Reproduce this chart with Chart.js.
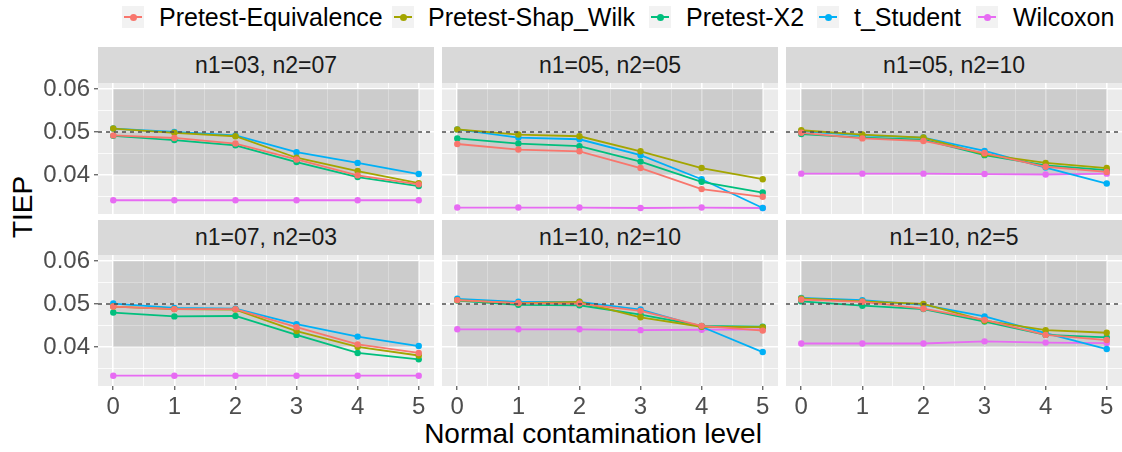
<!DOCTYPE html>
<html>
<head>
<meta charset="utf-8">
<script src="https://cdn.jsdelivr.net/npm/chart.js@4/dist/chart.umd.min.js"></script>
<style>
  body { margin: 0; background: #fff; }
  #wrap { position: relative; width: 1122px; height: 452px; overflow: hidden; font-family: "Liberation Sans", Arial, sans-serif; }
  .strip { position: absolute; background: #D9D9D9; color: #1A1A1A; font-size: 23px; display: flex; align-items: center; justify-content: center; }
  canvas { position: absolute; }
  .key { position: absolute; top: 6px; width: 22px; height: 22px; background: #F2F2F2; }
  .key .ln { position: absolute; left: 2px; top: 10px; width: 18px; height: 2px; }
  .key .dt { position: absolute; left: 7.5px; top: 7.5px; width: 7px; height: 7px; border-radius: 50%; }
  .ltxt { position: absolute; top: 2px; height: 30px; line-height: 30px; font-size: 25px; color: #000; white-space: nowrap; }
  .title { position: absolute; font-size: 28px; color: #000; white-space: nowrap; }
</style>
</head>
<body>
<div id="wrap">
  <div class="title" id="ytitle" style="left:23px; top:207px; transform: translate(-50%,-50%) rotate(-90deg);">TIEP</div>
  <div class="title" id="xtitle" style="left:593px; top:434px; transform: translate(-50%,-50%);">Normal contamination level</div>
</div>
<script>
const levels = [0, 1, 2, 3, 4, 5];
const panelNames = ['n1=03, n2=07', 'n1=05, n2=05', 'n1=05, n2=10', 'n1=07, n2=03', 'n1=10, n2=10', 'n1=10, n2=5'];
const methods = ['Pretest-Equivalence', 'Pretest-Shap_Wilk', 'Pretest-X2', 't_Student', 'Wilcoxon'];
const colors = ['#F8766D', '#A3A500', '#00BF7D', '#00B0F6', '#E76BF3'];
const xTicks = [0, 0.5, 1, 1.5, 2, 2.5, 3, 3.5, 4, 4.5, 5];
const yTicks = [0.035, 0.04, 0.045, 0.05, 0.055, 0.06];

// one row per panel, one value per contamination level
const pretestEquivalence = [
    [0.0492, 0.0486, 0.0473, 0.0436, 0.0399, 0.0378],
    [0.0472, 0.0459, 0.0455, 0.0416, 0.0367, 0.0349],
    [0.0498, 0.0485, 0.0479, 0.0451, 0.0419, 0.0407],
    [0.0494, 0.0488, 0.0488, 0.0446, 0.0406, 0.0386],
    [0.0509, 0.0502, 0.0501, 0.0484, 0.0449, 0.0438],
    [0.0510, 0.0505, 0.0489, 0.0463, 0.0428, 0.0416]
];
const pretestShapWilk = [
    [0.0508, 0.0498, 0.0490, 0.0440, 0.0409, 0.0381],
    [0.0506, 0.0494, 0.0490, 0.0455, 0.0416, 0.0390],
    [0.0504, 0.0494, 0.0487, 0.0448, 0.0428, 0.0416],
    [0.0494, 0.0488, 0.0487, 0.0437, 0.0400, 0.0380],
    [0.0509, 0.0502, 0.0505, 0.0469, 0.0447, 0.0446],
    [0.0513, 0.0506, 0.0500, 0.0461, 0.0439, 0.0433]
];
const pretestX2 = [
    [0.0491, 0.0481, 0.0469, 0.0430, 0.0395, 0.0374],
    [0.0485, 0.0473, 0.0467, 0.0431, 0.0384, 0.0359],
    [0.0495, 0.0487, 0.0482, 0.0446, 0.0422, 0.0411],
    [0.0480, 0.0471, 0.0472, 0.0428, 0.0386, 0.0371],
    [0.0508, 0.0498, 0.0497, 0.0475, 0.0449, 0.0447],
    [0.0506, 0.0496, 0.0488, 0.0459, 0.0428, 0.0422]
];
const tStudent = [
    [0.0508, 0.0500, 0.0492, 0.0453, 0.0428, 0.0402],
    [0.0506, 0.0487, 0.0483, 0.0446, 0.0390, 0.0323],
    [0.0502, 0.0492, 0.0487, 0.0456, 0.0417, 0.0380],
    [0.0501, 0.0491, 0.0489, 0.0453, 0.0424, 0.0402],
    [0.0512, 0.0505, 0.0505, 0.0487, 0.0447, 0.0388],
    [0.0514, 0.0509, 0.0498, 0.0471, 0.0432, 0.0395]
];
const wilcoxon = [
    [0.0341, 0.0341, 0.0341, 0.0341, 0.0341, 0.0341],
    [0.0324, 0.0324, 0.0324, 0.0323, 0.0324, 0.0323],
    [0.0403, 0.0403, 0.0403, 0.0402, 0.0401, 0.0403],
    [0.0333, 0.0333, 0.0333, 0.0333, 0.0333, 0.0333],
    [0.0441, 0.0441, 0.0441, 0.0439, 0.0440, 0.0441],
    [0.0408, 0.0408, 0.0408, 0.0413, 0.0410, 0.0409]
];
const series = [pretestEquivalence, pretestShapWilk, pretestX2, tStudent, wilcoxon];

const wrap = document.getElementById('wrap');
const FONT = '"Liberation Sans", Arial, sans-serif';

// panel geometry
const plotL = [98, 442, 786];
const plotW = 336;
const plotT = [83, 255];
const plotH = 131;
const stripT = [47, 220];
const stripH = [36, 35];
const PAD = 20;

// legend
const keyX = [122, 392, 649, 817, 976];
const txtX = [159, 428, 686, 854, 1013];
methods.forEach((m, i) => {
    const k = document.createElement('div');
    k.className = 'key';
    k.style.left = keyX[i] + 'px';
    k.innerHTML = '<div class="ln" style="background:' + colors[i] + '"></div><div class="dt" style="background:' + colors[i] + '"></div>';
    wrap.appendChild(k);
    const t = document.createElement('div');
    t.className = 'ltxt';
    t.style.left = txtX[i] + 'px';
    t.textContent = m;
    wrap.appendChild(t);
});

const isMajorY = v => Math.abs(v * 100 - Math.round(v * 100)) < 1e-6;
const isMajorX = v => Number.isInteger(v);

const decor = {
    id: 'decor',
    beforeDraw(chart) {
        const a = chart.chartArea, c = chart.ctx;
        c.save();
        c.fillStyle = '#EBEBEB';
        c.fillRect(a.left, a.top, a.right - a.left, a.bottom - a.top);
        c.restore();
    },
    beforeDatasetsDraw(chart) {
        const x = chart.scales.x, y = chart.scales.y, c = chart.ctx;
        const x0 = x.getPixelForValue(0), x1 = x.getPixelForValue(5);
        const y0 = y.getPixelForValue(0.06), y1 = y.getPixelForValue(0.04);
        c.save();
        c.fillStyle = 'rgba(0,0,0,0.13)';
        c.fillRect(x0, y0, x1 - x0, y1 - y0);
        c.restore();
    },
    afterDatasetsDraw(chart) {
        const a = chart.chartArea, y = chart.scales.y, c = chart.ctx;
        const yy = y.getPixelForValue(0.05);
        c.save();
        c.strokeStyle = '#4D4D4D';
        c.lineWidth = 1.5;
        c.setLineDash([4, 4]);
        c.beginPath();
        c.moveTo(a.left, yy);
        c.lineTo(a.right, yy);
        c.stroke();
        c.restore();
    }
};

panelNames.forEach((name, p) => {
    const r = Math.floor(p / 3), col = p % 3;
    const axisW = col === 0 ? 58 : 0;
    const axisH = r === 1 ? 34 : 0;

    const s = document.createElement('div');
    s.className = 'strip';
    s.style.left = plotL[col] + 'px';
    s.style.top = stripT[r] + 'px';
    s.style.width = plotW + 'px';
    s.style.height = stripH[r] + 'px';
    s.textContent = name;
    wrap.appendChild(s);

    const cv = document.createElement('canvas');
    const w = plotW + axisW + 2 * PAD, h = plotH + axisH + 2 * PAD;
    cv.width = w; cv.height = h;
    cv.style.width = w + 'px'; cv.style.height = h + 'px';
    cv.style.left = (plotL[col] - axisW - PAD) + 'px';
    cv.style.top = (plotT[r] - PAD) + 'px';
    wrap.appendChild(cv);

    const datasets = methods.map((m, i) => ({
        label: m,
        data: levels.map((lv, k) => ({ x: lv, y: series[i][p][k] })),
        borderColor: colors[i],
        backgroundColor: colors[i],
        borderWidth: 1.8,
        pointRadius: 3.2,
        pointBorderWidth: 0,
        tension: 0
    }));

    new Chart(cv.getContext('2d'), {
        type: 'line',
        data: { datasets: datasets },
        options: {
            responsive: false,
            animation: false,
            devicePixelRatio: 1,
            layout: { padding: PAD },
            plugins: { legend: { display: false }, tooltip: { enabled: false } },
            scales: {
                x: {
                    type: 'linear', min: -0.25, max: 5.25,
                    afterBuildTicks: sc => { sc.ticks = xTicks.map(v => ({ value: v })); },
                    afterFit: sc => { sc.height = axisH; sc.paddingLeft = 0; sc.paddingRight = 0; },
                    border: { display: false },
                    grid: {
                        color: '#FFFFFF',
                        lineWidth: ctx => isMajorX(ctx.tick.value) ? 1.6 : 0.8,
                        drawTicks: r === 1,
                        tickLength: 4,
                        tickWidth: 1,
                        tickColor: ctx => isMajorX(ctx.tick.value) ? '#333333' : 'rgba(0,0,0,0)'
                    },
                    ticks: {
                        display: r === 1, autoSkip: false, maxRotation: 0, padding: 3,
                        color: '#4D4D4D', font: { family: FONT, size: 24 },
                        callback: v => isMajorX(v) ? String(v) : ''
                    }
                },
                y: {
                    type: 'linear', min: 0.0309, max: 0.0614,
                    afterBuildTicks: sc => { sc.ticks = yTicks.map(v => ({ value: v })); },
                    afterFit: sc => { sc.width = axisW; sc.paddingTop = 0; sc.paddingBottom = 0; },
                    border: { display: false },
                    grid: {
                        color: '#FFFFFF',
                        lineWidth: ctx => isMajorY(ctx.tick.value) ? 1.6 : 0.8,
                        drawTicks: col === 0,
                        tickLength: 4,
                        tickWidth: 1,
                        tickColor: ctx => isMajorY(ctx.tick.value) ? '#333333' : 'rgba(0,0,0,0)'
                    },
                    ticks: {
                        display: col === 0, autoSkip: false, padding: 4,
                        color: '#4D4D4D', font: { family: FONT, size: 24 },
                        callback: v => isMajorY(v) ? v.toFixed(2) : ''
                    }
                }
            }
        },
        plugins: [decor]
    });
});
</script>
</body>
</html>
